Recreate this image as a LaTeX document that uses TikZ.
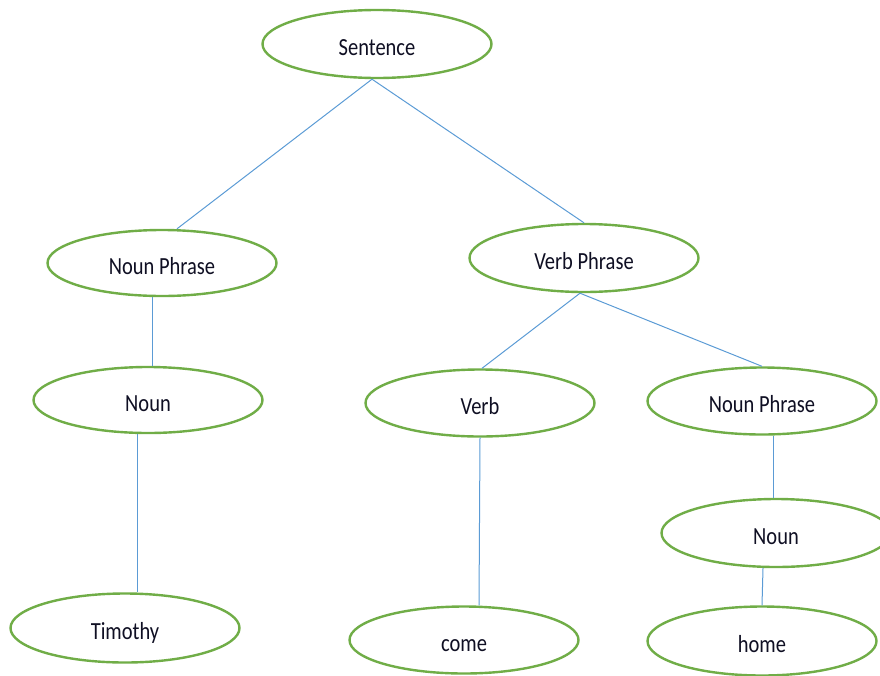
\documentclass[tikz,border=0pt]{standalone}
\usepackage{fontspec}
\setmainfont{Carlito}
\usetikzlibrary{shapes.geometric}
\definecolor{offgreen}{RGB}{112,173,71}
\definecolor{offblue}{RGB}{91,155,213}
\definecolor{txt}{RGB}{15,15,35}
\newcommand{\lbl}[1]{\scalebox{1}[1.2]{#1}}
\tikzset{
  oval/.style={ellipse, draw=offgreen, line width=2.4pt, fill=white, inner sep=0pt,
    minimum width=229pt, minimum height=67pt, text=txt, text height=23pt, text depth=1pt,
    font=\fontsize{20.5}{24}\selectfont},
  edge/.style={draw=offblue, line width=1pt}
}
\begin{document}
\begin{tikzpicture}[x=1pt,y=-1pt]
\useasboundingbox (0,0) rectangle (880,675);
\begin{scope}
\clip (0,0) rectangle (880,675);
\node[oval, minimum height=68pt] (s) at (377,44) {\lbl{Sentence}};
\node[oval, minimum height=66pt] (np1) at (162,263) {\lbl{Noun Phrase}};
\node[oval, minimum height=68pt] (vp) at (584,258) {\lbl{Verb Phrase}};
\node[oval, minimum height=66pt] (n1) at (148,400) {\lbl{Noun}};
\node[oval] (v) at (480,403) {\lbl{Verb}};
\node[oval] (np2) at (762,401) {\lbl{Noun Phrase}};
\node[oval, minimum height=68pt] (n2) at (776,533) {\lbl{Noun}};
\node[oval, minimum height=69pt] (t) at (125,628) {\lbl{Timothy}};
\node[oval] (c) at (464,640) {\lbl{come}};
\node[oval, minimum height=69pt] (h) at (762,641) {\lbl{home}};
\end{scope}
\draw[edge] ([xshift=-5pt]s.south) -- ([xshift=15pt]np1.north);
\draw[edge] ([xshift=-5pt]s.south) -- (vp.north);
\draw[edge] ([xshift=-10pt]np1.south) -- ([xshift=4pt]n1.north);
\draw[edge] ([xshift=-11pt]n1.south) -- ([xshift=12pt]t.north);
\draw[edge] ([xshift=-4pt]vp.south) -- ([xshift=2pt]v.north);
\draw[edge] ([xshift=-4pt]vp.south) -- (np2.north);
\draw[edge] (v.south) -- ([xshift=15pt]c.north);
\draw[edge] ([xshift=11pt]np2.south) -- ([xshift=-3pt]n2.north);
\draw[edge] ([xshift=-13pt]n2.south) -- (h.north);
\end{tikzpicture}
\end{document}
